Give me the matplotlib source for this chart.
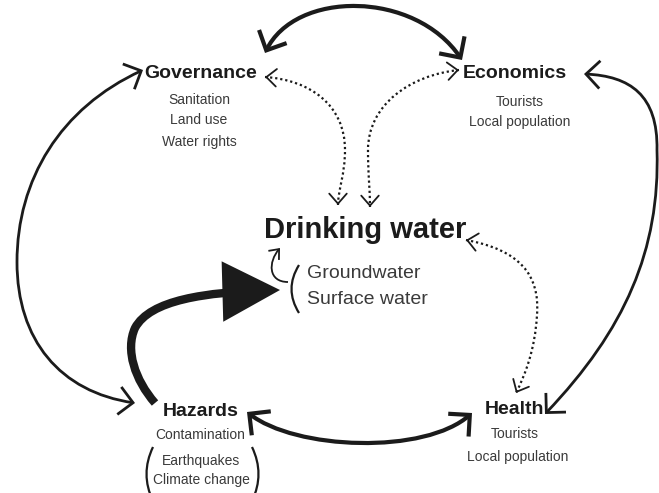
import matplotlib.pyplot as plt
from matplotlib.path import Path
from matplotlib.patches import FancyArrowPatch, PathPatch
from matplotlib import font_manager

# node labels and their sub items
heads = ['Governance', 'Economics', 'Hazards', 'Health']
head_x = [201, 515, 201, 514]
head_y = [73, 73, 412, 410]

subs = [['Sanitation', 'Land use', 'Water rights'],
        ['Tourists', 'Local population'],
        ['Contamination', 'Earthquakes', 'Climate change'],
        ['Tourists', 'Local population']]
sub_x = [[199, 199, 199], [520, 520], [200, 201, 201], [515, 518]]
sub_y = [[100, 120, 142], [102, 122], [435, 461, 480], [434, 457]]

center_label = 'Drinking water'
sources = ['Groundwater', 'Surface water']

installed = {f.name for f in font_manager.fontManager.ttflist}
font = 'Liberation Sans Narrow' if 'Liberation Sans Narrow' in installed else 'Liberation Sans'
plt.rcParams['font.family'] = [font, 'DejaVu Sans']

DARK = '#1b1b1b'
GREY = '#3a3a3a'

fig = plt.figure(figsize=(6.59, 4.93), dpi=100)
ax = fig.add_axes([0, 0, 1, 1])
ax.set_xlim(0, 659)
ax.set_ylim(493, 0)
ax.axis('off')

M, C = Path.MOVETO, Path.CURVE4


def curve(pts, style, lw, scale, ls='-'):
    codes = [M] + [C] * (len(pts) - 1)
    p = FancyArrowPatch(path=Path(pts, codes), arrowstyle=style,
                        mutation_scale=scale, lw=lw, color=DARK,
                        linestyle=ls, capstyle='butt', joinstyle='miter')
    ax.add_patch(p)


def tip(end, ctrl, lw=1.3):
    # small solid open head at the end of a dotted link
    dx, dy = ctrl[0] - end[0], ctrl[1] - end[1]
    d = (dx ** 2 + dy ** 2) ** 0.5
    back = (end[0] + 2 * dx / d, end[1] + 2 * dy / d)
    ax.add_patch(FancyArrowPatch(back, end, arrowstyle='->, head_length=0.4, head_width=0.35',
                                 mutation_scale=18, lw=lw, color=DARK,
                                 shrinkA=0, shrinkB=0))


def dotted(pts):
    curve(pts, '-', 1.6, 20, (0, (1, 1.3)))
    tip(pts[0], pts[1])
    tip(pts[-1], pts[-2])


def paren(pts, lw=1.6):
    ax.add_patch(PathPatch(Path(pts, [M, Path.CURVE3, Path.CURVE3]),
                           fill=False, lw=lw, color=DARK))


for i, h in enumerate(heads):
    ax.text(head_x[i], head_y[i], h, ha='center', va='center',
            fontsize=14, fontweight='bold', color=DARK)
    for s, x, y in zip(subs[i], sub_x[i], sub_y[i]):
        ax.text(x, y, s, ha='center', va='center', fontsize=10, color=GREY)

ax.text(365, 230, center_label, ha='center', va='center',
        fontsize=21, fontweight='bold', color=DARK)
ax.text(307, 273, sources[0], ha='left', va='center', fontsize=14, color=GREY)
ax.text(307, 299, sources[1], ha='left', va='center', fontsize=14, color=GREY)

# brackets
paren([(299, 265), (284, 289), (299, 313)])
paren([(153, 447), (140, 474), (153, 501)])
paren([(252, 447), (265, 474), (252, 501)])

open_big = '<->, head_length=0.55, head_width=0.55'
open_mid = '<->, head_length=0.5, head_width=0.5'

# governance <-> economics
curve([(265, 53), (295, -10), (415, -10), (462, 60)], open_big, 3, 20)
# governance <-> hazards
curve([(143, 70), (60, 108), (17, 180), (17, 262),
       (17, 340), (60, 392), (135, 403)], open_mid, 2, 20)
# economics <-> health
curve([(584, 74), (630, 76), (658, 95), (657, 150),
       (660, 250), (625, 330), (545, 414)], open_mid, 2, 20)
# hazards <-> health
curve([(247, 412), (295, 450), (425, 455), (472, 413)], open_big, 3, 20)
# hazards -> drinking water
curve([(155, 403), (135, 380), (125, 350), (135, 328),
       (150, 300), (205, 292), (280, 290)],
      '-|>, head_length=0.8, head_width=0.42', 6, 40)
# dotted links
dotted([(265, 77), (310, 80), (345, 105), (345, 150),
        (345, 175), (338, 190), (338, 205)])
dotted([(459, 70), (410, 75), (368, 105), (368, 150),
        (368, 175), (370, 190), (370, 207)])
dotted([(466, 240), (520, 250), (540, 275), (537, 315),
        (535, 350), (525, 375), (516, 393)])
# small loop from sources
curve([(288, 282), (268, 282), (268, 262), (280, 248)],
      '->, head_length=0.3, head_width=0.25', 1.3, 20)

fig.savefig('out.png', dpi=100)
